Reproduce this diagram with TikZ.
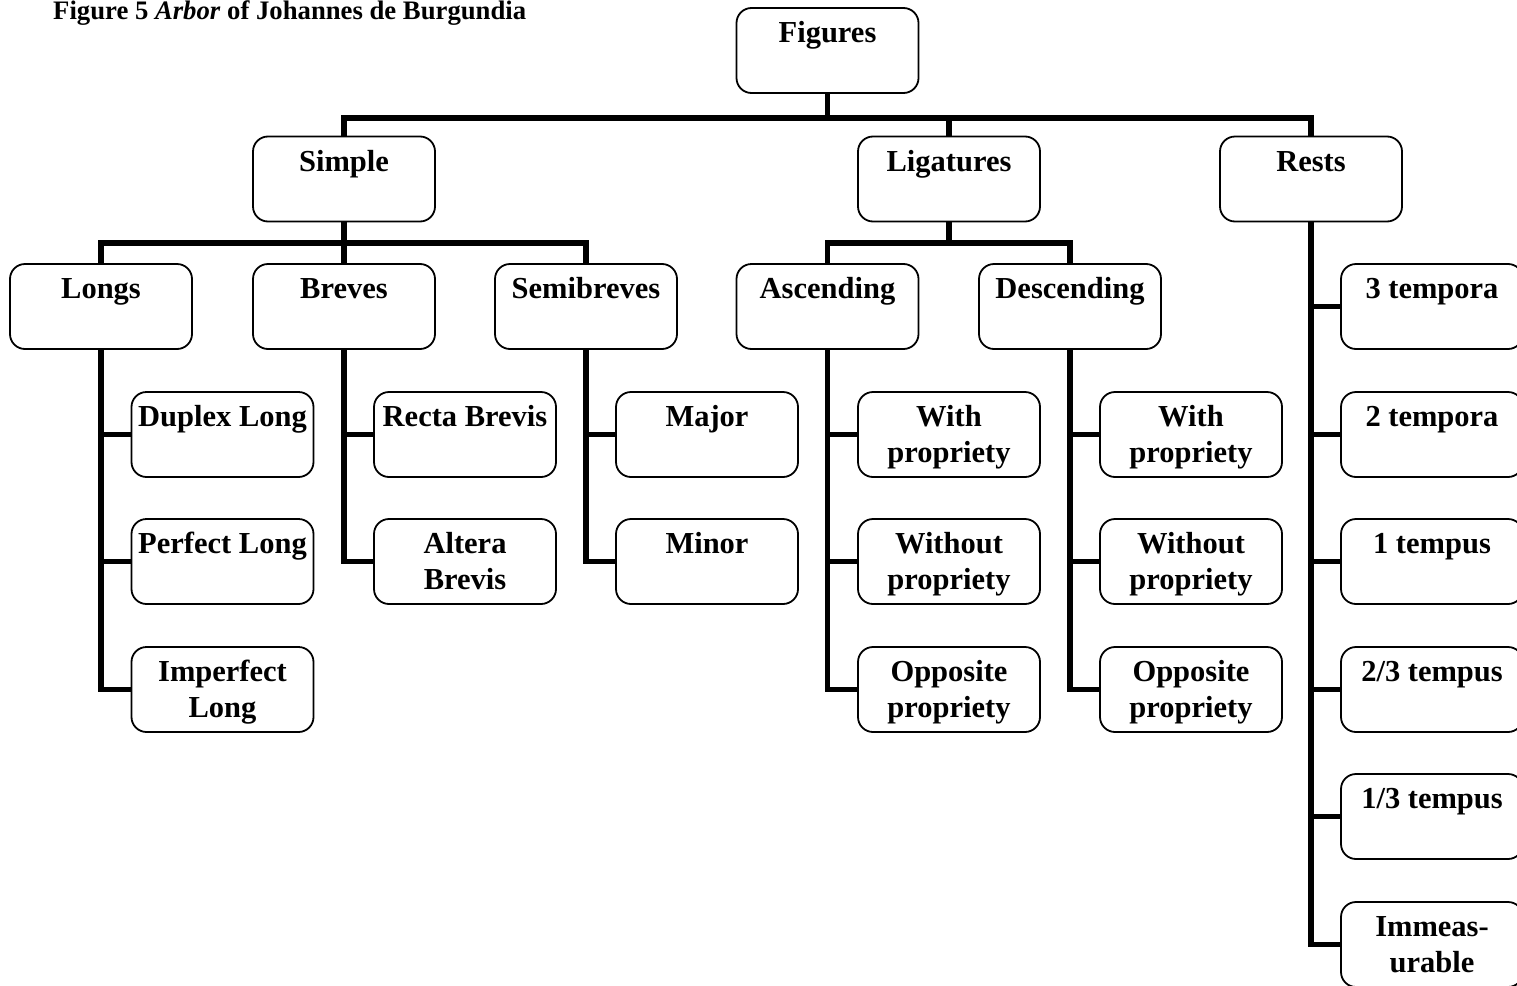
\documentclass[tikz,border=0pt]{standalone}
\usepackage{fontspec}
\setmainfont{Liberation Serif}
\usetikzlibrary{backgrounds}
\begin{document}
\begin{tikzpicture}[x=1pt,y=-1pt,
  box/.style={draw, line width=1.8pt, rounded corners=15pt, inner sep=0pt, fill=white,
    font=\fontsize{30.5}{36}\selectfont\bfseries},
  conn/.style={line width=5.8pt, line join=miter, line cap=rect},
  ttl/.style={anchor=base west, inner sep=0pt, font=\fontsize{26.7}{30}\selectfont\bfseries}]
\useasboundingbox (0,0) rectangle (1517,985);
\clip (0,0) rectangle (1517,985);
\newcommand{\bxtext}[1]{\parbox[c][85pt][t]{182pt}{\centering\rule{0pt}{34.5pt}#1}}
\node[ttl] (title) at (53,19.5) {Figure 5 \textit{Arbor} of Johannes de Burgundia};
% row 0
\node[box] (fig) at (827.5,50.5) {\bxtext{Figures}};
% row 1
\node[box] (simple) at (344,179) {\bxtext{Simple}};
\node[box] (lig) at (949,179) {\bxtext{Ligatures}};
\node[box] (rests) at (1311,179) {\bxtext{Rests}};
% row 2
\node[box] (longs) at (101,306.5) {\bxtext{Longs}};
\node[box] (breves) at (344,306.5) {\bxtext{Breves}};
\node[box] (semib) at (586,306.5) {\bxtext{Semibreves}};
\node[box] (asc) at (827.5,306.5) {\bxtext{Ascending}};
\node[box] (desc) at (1070,306.5) {\bxtext{Descending}};
\node[box] (r3) at (1432,306.5) {\bxtext{3 tempora}};
% row 3
\node[box] (dupl) at (222.5,434.5) {\bxtext{Duplex Long}};
\node[box] (recta) at (465,434.5) {\bxtext{Recta Brevis}};
\node[box] (major) at (707,434.5) {\bxtext{Major}};
\node[box] (aw) at (949,434.5) {\bxtext{With\\propriety}};
\node[box] (dw) at (1191,434.5) {\bxtext{With\\propriety}};
\node[box] (r2) at (1432,434.5) {\bxtext{2 tempora}};
% row 4
\node[box] (perf) at (222.5,561.5) {\bxtext{Perfect Long}};
\node[box] (altera) at (465,561.5) {\bxtext{Altera\\Brevis}};
\node[box] (minor) at (707,561.5) {\bxtext{Minor}};
\node[box] (awo) at (949,561.5) {\bxtext{Without\\propriety}};
\node[box] (dwo) at (1191,561.5) {\bxtext{Without\\propriety}};
\node[box] (r1) at (1432,561.5) {\bxtext{1 tempus}};
% row 5
\node[box] (imperf) at (222.5,689.5) {\bxtext{Imperfect\\Long}};
\node[box] (aop) at (949,689.5) {\bxtext{Opposite\\propriety}};
\node[box] (dop) at (1191,689.5) {\bxtext{Opposite\\propriety}};
\node[box] (r23) at (1432,689.5) {\bxtext{2/3 tempus}};
% row 6
\node[box] (r13) at (1432,816.5) {\bxtext{1/3 tempus}};
% row 7
\node[box] (rim) at (1432,944.5) {\bxtext{Immeas-\\urable}};
% buses
\coordinate (b1) at (0,118);
\coordinate (b2) at (0,243);
\begin{pgfonlayer}{background}
\draw[conn] (fig.south) -- (fig.south |- b1);
\draw[conn] (simple.north) -- (simple.north |- b1) -- (rests.north |- b1) -- (rests.north);
\draw[conn] (lig.north) -- (lig.north |- b1);
\draw[conn] (simple.south) -- (simple.south |- b2);
\draw[conn] (longs.north) -- (longs.north |- b2) -- (semib.north |- b2) -- (semib.north);
\draw[conn] (breves.north) -- (breves.north |- b2);
\draw[conn] (lig.south) -- (lig.south |- b2);
\draw[conn] (asc.north) -- (asc.north |- b2) -- (desc.north |- b2) -- (desc.north);
% children
\draw[conn] (longs.south) |- (imperf.west);
\draw[conn] (longs.south |- dupl.west) -- (dupl.west);
\draw[conn] (longs.south |- perf.west) -- (perf.west);
\draw[conn] (breves.south) |- (altera.west);
\draw[conn] (breves.south |- recta.west) -- (recta.west);
\draw[conn] (semib.south) |- (minor.west);
\draw[conn] (semib.south |- major.west) -- (major.west);
\draw[conn] (asc.south) |- (aop.west);
\draw[conn] (asc.south |- aw.west) -- (aw.west);
\draw[conn] (asc.south |- awo.west) -- (awo.west);
\draw[conn] (desc.south) |- (dop.west);
\draw[conn] (desc.south |- dw.west) -- (dw.west);
\draw[conn] (desc.south |- dwo.west) -- (dwo.west);
\draw[conn] (rests.south) |- (rim.west);
\draw[conn] (rests.south |- r3.west) -- (r3.west);
\draw[conn] (rests.south |- r2.west) -- (r2.west);
\draw[conn] (rests.south |- r1.west) -- (r1.west);
\draw[conn] (rests.south |- r23.west) -- (r23.west);
\draw[conn] (rests.south |- r13.west) -- (r13.west);
\end{pgfonlayer}
\end{tikzpicture}
\end{document}
